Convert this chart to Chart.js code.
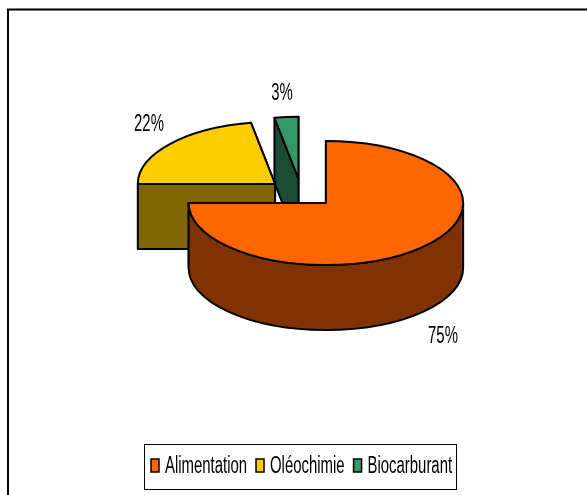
<!DOCTYPE html>
<html>
<head>
<meta charset="utf-8">
<style>
  html, body { margin: 0; padding: 0; background: #fff; overflow: hidden; }
  #wrap { position: absolute; left: 0; top: 0; width: 587px; height: 495px; }
</style>
<script src="https://cdn.jsdelivr.net/npm/chart.js@4/dist/chart.umd.min.js"></script>
</head>
<body>
<div id="wrap"><canvas id="pie" width="587" height="495"></canvas></div>
<script>
/* data */
const categories = ['Alimentation', 'Oléochimie', 'Biocarburant'];
const shares = [75, 22.2, 2.8];
const topColors = ['#FF6600', '#FFCC00', '#339966'];
const wallColors = ['#803300', '#806600', '#1A4D33'];

/* look of the fake 3D pie */
const CENTER_Y = 193;       // pixel row of the unexploded pie centre
const TILT = 0.452;         // ellipse height / width
const OFFSET_TILT = 0.41;   // vertical squash of the explode offset
const DEPTH = 65;
const TEXT_FONT = '23px "Liberation Sans", Arial, sans-serif';
const TEXT_SQUEEZE = 0.648; // the original text is condensed horizontally
const LABEL_SPOTS = [[443, 335], [149, 123], [282, 92]];

/* text squeezed in x around its own start */
function squeezedText(ctx, text, x, y, align) {
  ctx.save();
  ctx.font = TEXT_FONT;
  ctx.fillStyle = '#000';
  ctx.textAlign = align;
  ctx.textBaseline = 'alphabetic';
  ctx.translate(x, y);
  ctx.scale(TEXT_SQUEEZE, 1);
  ctx.fillText(text, 0, 0);
  ctx.restore();
}

function paint(ctx, fill) {
  ctx.fillStyle = fill;
  ctx.fill();
  ctx.stroke();
}

/* one slice: walls back to front, then its top face */
function drawSlice(ctx, arc, i) {
  const a0 = arc.startAngle, a1 = arc.endAngle, r = arc.outerRadius, ry = r * TILT;
  const mid = (a0 + a1) / 2, off = arc.options.offset;
  const x = arc.x + Math.cos(mid) * off;
  const y = CENTER_Y + Math.sin(mid) * off * OFFSET_TILT;

  [a1, a0].sort((p, q) => Math.sin(p) - Math.sin(q)).forEach(a => {
    const ex = x + Math.cos(a) * r, ey = y + Math.sin(a) * ry;
    ctx.beginPath();
    ctx.moveTo(x, y);
    ctx.lineTo(ex, ey);
    ctx.lineTo(ex, ey + DEPTH);
    ctx.lineTo(x, y + DEPTH);
    ctx.closePath();
    paint(ctx, wallColors[i]);
  });

  const lo = Math.max(a0, 0), hi = Math.min(a1, Math.PI);
  if (lo < hi) {
    ctx.beginPath();
    ctx.ellipse(x, y, r, ry, 0, lo, hi);
    ctx.ellipse(x, y + DEPTH, r, ry, 0, hi, lo, true);
    ctx.closePath();
    paint(ctx, wallColors[i]);
  }

  ctx.beginPath();
  ctx.moveTo(x, y);
  ctx.ellipse(x, y, r, ry, 0, a0, a1);
  ctx.closePath();
  paint(ctx, topColors[i]);
}

function drawLegend(ctx) {
  let cursor = 151;
  ctx.font = TEXT_FONT;
  ctx.save();
  ctx.strokeStyle = '#000';
  ctx.lineWidth = 1;
  ctx.strokeRect(144.5, 444.5, 312, 45);
  ctx.restore();
  categories.forEach((name, i) => {
    ctx.save();
    ctx.lineWidth = 1.5;
    ctx.strokeStyle = '#000';
    ctx.fillStyle = topColors[i];
    ctx.fillRect(cursor, 459, 8, 13);
    ctx.strokeRect(cursor, 459, 8, 13);
    ctx.restore();
    squeezedText(ctx, name, cursor + 14, 473, 'left');
    cursor += 14 + ctx.measureText(name).width * TEXT_SQUEEZE + 9;
  });
}

const pie3d = {
  id: 'pie3d',
  beforeDraw(chart) {
    const ctx = chart.ctx;
    ctx.save();
    ctx.strokeStyle = '#000';
    ctx.lineWidth = 2;
    ctx.beginPath();
    ctx.moveTo(8, 495);
    ctx.lineTo(8, 9.5);
    ctx.lineTo(587, 9.5);
    ctx.stroke();
    ctx.restore();
  },
  beforeDatasetsDraw(chart) {
    const ctx = chart.ctx;
    const arcs = chart.getDatasetMeta(0).data;
    ctx.save();
    ctx.strokeStyle = '#000';
    ctx.lineWidth = 2;
    ctx.lineJoin = 'round';
    // far slices first, the big front one last
    [2, 1, 0].forEach(i => drawSlice(ctx, arcs[i], i));
    ctx.restore();
    shares.forEach((v, i) => {
      squeezedText(ctx, Math.round(v) + '%', LABEL_SPOTS[i][0], LABEL_SPOTS[i][1] + 8, 'center');
    });
    drawLegend(ctx);
    return false;
  }
};

new Chart(document.getElementById('pie'), {
  type: 'pie',
  data: {
    labels: categories,
    datasets: [{
      data: shares,
      backgroundColor: topColors,
      borderColor: '#000',
      borderWidth: 2,
      offset: 34.5,
      hoverOffset: 0
    }]
  },
  options: {
    responsive: false,
    animation: false,
    events: [],
    layout: { padding: { left: 146, right: 130, top: 40, bottom: 144 } },
    plugins: { legend: { display: false }, tooltip: { enabled: false } }
  },
  plugins: [pie3d]
});
</script>
</body>
</html>
